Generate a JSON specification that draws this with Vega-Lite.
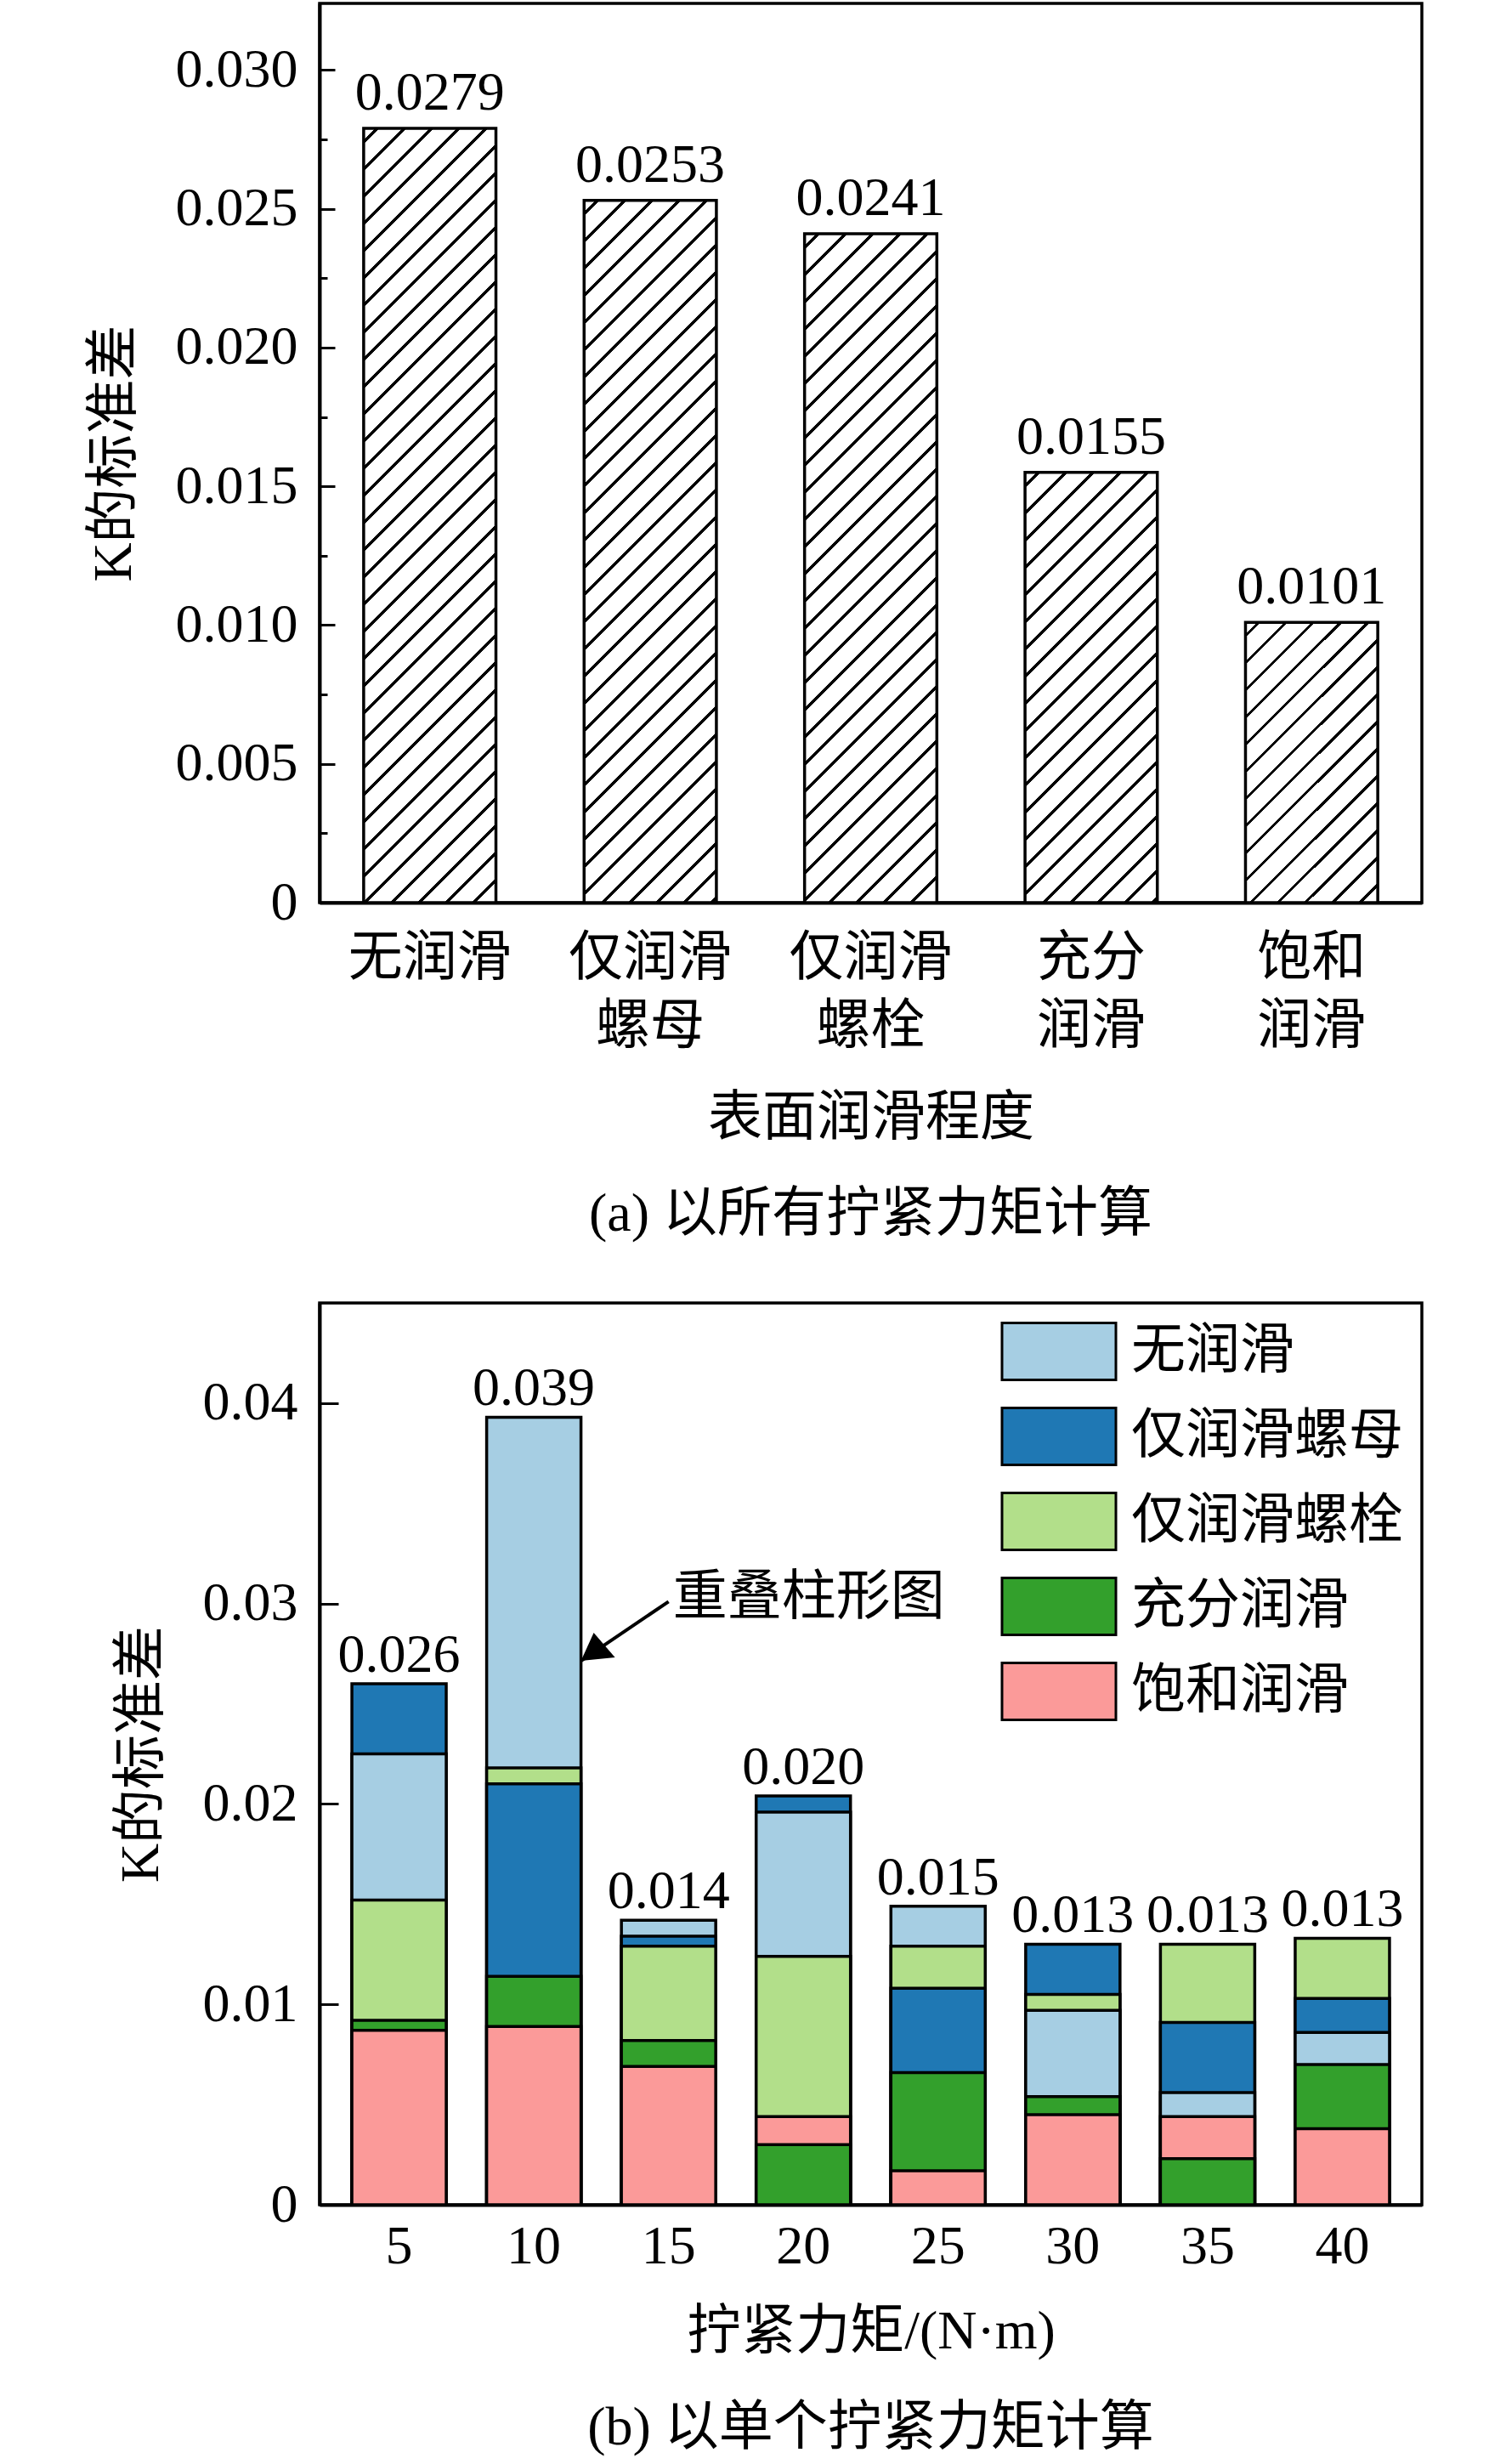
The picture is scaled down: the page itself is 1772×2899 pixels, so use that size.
{
  "$schema": "https://vega.github.io/schema/vega-lite/v6.json",
  "background": "white",
  "padding": {"left": 100, "top": 2, "right": 0, "bottom": 0},
  "spacing": 68,
  "resolve": {"scale": {"fill": "independent"}, "legend": {"fill": "independent"}},
  "params": [
    {
      "name": "hatch",
      "value": [
        {"offset": 0, "color": "#fff"},
        {"offset": 0.0107, "color": "#fff"}, {"offset": 0.0107, "color": "#000"}, {"offset": 0.0143, "color": "#000"}, {"offset": 0.0143, "color": "#fff"},
        {"offset": 0.0357, "color": "#fff"}, {"offset": 0.0357, "color": "#000"}, {"offset": 0.0393, "color": "#000"}, {"offset": 0.0393, "color": "#fff"},
        {"offset": 0.0607, "color": "#fff"}, {"offset": 0.0607, "color": "#000"}, {"offset": 0.0643, "color": "#000"}, {"offset": 0.0643, "color": "#fff"},
        {"offset": 0.0857, "color": "#fff"}, {"offset": 0.0857, "color": "#000"}, {"offset": 0.0893, "color": "#000"}, {"offset": 0.0893, "color": "#fff"},
        {"offset": 0.1107, "color": "#fff"}, {"offset": 0.1107, "color": "#000"}, {"offset": 0.1143, "color": "#000"}, {"offset": 0.1143, "color": "#fff"},
        {"offset": 0.1357, "color": "#fff"}, {"offset": 0.1357, "color": "#000"}, {"offset": 0.1393, "color": "#000"}, {"offset": 0.1393, "color": "#fff"},
        {"offset": 0.1607, "color": "#fff"}, {"offset": 0.1607, "color": "#000"}, {"offset": 0.1643, "color": "#000"}, {"offset": 0.1643, "color": "#fff"},
        {"offset": 0.1857, "color": "#fff"}, {"offset": 0.1857, "color": "#000"}, {"offset": 0.1893, "color": "#000"}, {"offset": 0.1893, "color": "#fff"},
        {"offset": 0.2107, "color": "#fff"}, {"offset": 0.2107, "color": "#000"}, {"offset": 0.2143, "color": "#000"}, {"offset": 0.2143, "color": "#fff"},
        {"offset": 0.2357, "color": "#fff"}, {"offset": 0.2357, "color": "#000"}, {"offset": 0.2393, "color": "#000"}, {"offset": 0.2393, "color": "#fff"},
        {"offset": 0.2607, "color": "#fff"}, {"offset": 0.2607, "color": "#000"}, {"offset": 0.2643, "color": "#000"}, {"offset": 0.2643, "color": "#fff"},
        {"offset": 0.2857, "color": "#fff"}, {"offset": 0.2857, "color": "#000"}, {"offset": 0.2893, "color": "#000"}, {"offset": 0.2893, "color": "#fff"},
        {"offset": 0.3107, "color": "#fff"}, {"offset": 0.3107, "color": "#000"}, {"offset": 0.3143, "color": "#000"}, {"offset": 0.3143, "color": "#fff"},
        {"offset": 0.3357, "color": "#fff"}, {"offset": 0.3357, "color": "#000"}, {"offset": 0.3393, "color": "#000"}, {"offset": 0.3393, "color": "#fff"},
        {"offset": 0.3607, "color": "#fff"}, {"offset": 0.3607, "color": "#000"}, {"offset": 0.3643, "color": "#000"}, {"offset": 0.3643, "color": "#fff"},
        {"offset": 0.3857, "color": "#fff"}, {"offset": 0.3857, "color": "#000"}, {"offset": 0.3893, "color": "#000"}, {"offset": 0.3893, "color": "#fff"},
        {"offset": 0.4107, "color": "#fff"}, {"offset": 0.4107, "color": "#000"}, {"offset": 0.4143, "color": "#000"}, {"offset": 0.4143, "color": "#fff"},
        {"offset": 0.4357, "color": "#fff"}, {"offset": 0.4357, "color": "#000"}, {"offset": 0.4393, "color": "#000"}, {"offset": 0.4393, "color": "#fff"},
        {"offset": 0.4607, "color": "#fff"}, {"offset": 0.4607, "color": "#000"}, {"offset": 0.4643, "color": "#000"}, {"offset": 0.4643, "color": "#fff"},
        {"offset": 0.4857, "color": "#fff"}, {"offset": 0.4857, "color": "#000"}, {"offset": 0.4893, "color": "#000"}, {"offset": 0.4893, "color": "#fff"},
        {"offset": 0.5107, "color": "#fff"}, {"offset": 0.5107, "color": "#000"}, {"offset": 0.5143, "color": "#000"}, {"offset": 0.5143, "color": "#fff"},
        {"offset": 0.5357, "color": "#fff"}, {"offset": 0.5357, "color": "#000"}, {"offset": 0.5393, "color": "#000"}, {"offset": 0.5393, "color": "#fff"},
        {"offset": 0.5607, "color": "#fff"}, {"offset": 0.5607, "color": "#000"}, {"offset": 0.5643, "color": "#000"}, {"offset": 0.5643, "color": "#fff"},
        {"offset": 0.5857, "color": "#fff"}, {"offset": 0.5857, "color": "#000"}, {"offset": 0.5893, "color": "#000"}, {"offset": 0.5893, "color": "#fff"},
        {"offset": 0.6107, "color": "#fff"}, {"offset": 0.6107, "color": "#000"}, {"offset": 0.6143, "color": "#000"}, {"offset": 0.6143, "color": "#fff"},
        {"offset": 0.6357, "color": "#fff"}, {"offset": 0.6357, "color": "#000"}, {"offset": 0.6393, "color": "#000"}, {"offset": 0.6393, "color": "#fff"},
        {"offset": 0.6607, "color": "#fff"}, {"offset": 0.6607, "color": "#000"}, {"offset": 0.6643, "color": "#000"}, {"offset": 0.6643, "color": "#fff"},
        {"offset": 0.6857, "color": "#fff"}, {"offset": 0.6857, "color": "#000"}, {"offset": 0.6893, "color": "#000"}, {"offset": 0.6893, "color": "#fff"},
        {"offset": 0.7107, "color": "#fff"}, {"offset": 0.7107, "color": "#000"}, {"offset": 0.7143, "color": "#000"}, {"offset": 0.7143, "color": "#fff"},
        {"offset": 0.7357, "color": "#fff"}, {"offset": 0.7357, "color": "#000"}, {"offset": 0.7393, "color": "#000"}, {"offset": 0.7393, "color": "#fff"},
        {"offset": 0.7607, "color": "#fff"}, {"offset": 0.7607, "color": "#000"}, {"offset": 0.7643, "color": "#000"}, {"offset": 0.7643, "color": "#fff"},
        {"offset": 0.7857, "color": "#fff"}, {"offset": 0.7857, "color": "#000"}, {"offset": 0.7893, "color": "#000"}, {"offset": 0.7893, "color": "#fff"},
        {"offset": 0.8107, "color": "#fff"}, {"offset": 0.8107, "color": "#000"}, {"offset": 0.8143, "color": "#000"}, {"offset": 0.8143, "color": "#fff"},
        {"offset": 0.8357, "color": "#fff"}, {"offset": 0.8357, "color": "#000"}, {"offset": 0.8393, "color": "#000"}, {"offset": 0.8393, "color": "#fff"},
        {"offset": 0.8607, "color": "#fff"}, {"offset": 0.8607, "color": "#000"}, {"offset": 0.8643, "color": "#000"}, {"offset": 0.8643, "color": "#fff"},
        {"offset": 0.8857, "color": "#fff"}, {"offset": 0.8857, "color": "#000"}, {"offset": 0.8893, "color": "#000"}, {"offset": 0.8893, "color": "#fff"},
        {"offset": 1, "color": "#fff"}
      ]
    }
  ],
  "config": {
    "font": "Liberation Serif, Noto Sans CJK SC",
    "view": {"stroke": "black", "strokeWidth": 3.5},
    "axis": {
      "grid": false,
      "labelFontSize": 64,
      "titleFontSize": 64,
      "titleFontWeight": "normal",
      "labelColor": "black",
      "titleColor": "black",
      "domainColor": "black",
      "domainWidth": 4,
      "tickColor": "black",
      "tickWidth": 3
    },
    "title": {"fontSize": 64, "fontWeight": "normal", "color": "black"},
    "text": {"fontSize": 64, "color": "black"}
  },
  "vconcat": [
    {
      "width": 1297,
      "height": 1058,
      "title": {"text": "(a) 以所有拧紧力矩计算", "orient": "bottom", "frame": "group", "anchor": "middle", "offset": 50},
      "data": {
        "values": [
          {"cat": "无润滑", "v": 0.0279},
          {"cat": "仅润滑螺母", "v": 0.0253},
          {"cat": "仅润滑螺栓", "v": 0.0241},
          {"cat": "充分润滑", "v": 0.0155},
          {"cat": "饱和润滑", "v": 0.0101}
        ]
      },
      "encoding": {
        "x": {
          "field": "cat",
          "type": "nominal",
          "sort": null,
          "title": "表面润滑程度",
          "scale": {"paddingInner": 0.4, "paddingOuter": 0.2},
          "axis": {
            "labelAngle": 0,
            "ticks": false,
            "labelPadding": 33,
            "labelBaseline": "top",
            "labelLineHeight": 80,
            "labelLimit": 0,
            "labelOverlap": false,
            "labelExpr": "length(datum.label) > 3 ? [substring(datum.label, 0, length(datum.label) - 2), substring(datum.label, length(datum.label) - 2)] : datum.label",
            "titlePadding": 44
          }
        },
        "y": {
          "field": "v",
          "type": "quantitative",
          "title": "K的标准差",
          "scale": {"domain": [0, 0.0324], "nice": false},
          "axis": {
            "values": [0, 0.0025, 0.005, 0.0075, 0.01, 0.0125, 0.015, 0.0175, 0.02, 0.0225, 0.025, 0.0275, 0.03],
            "labelExpr": "datum.value === 0 ? '0' : (round(datum.value * 10000) % 50 === 0 ? format(datum.value, '.3f') : '')",
            "tickSize": {"condition": {"test": "round(datum.value * 10000) % 50 === 0", "value": -18}, "value": -9},
            "labelPadding": 44,
            "labelOverlap": false,
            "titlePadding": 40
          }
        }
      },
      "layer": [
        {
          "mark": {"type": "bar", "stroke": "black", "strokeWidth": 3.5},
          "encoding": {
            "fill": {"value": {"expr": "{gradient: 'linear', x1: 0, y1: 0, x2: 199168 / (24211 + pow(datum.v * 32654, 2)), y2: 41797120 * datum.v / (24211 + pow(datum.v * 32654, 2)), stops: hatch}"}}
          }
        },
        {
          "mark": {"type": "text", "baseline": "alphabetic", "dy": -22},
          "encoding": {"text": {"field": "v", "format": ".4f"}}
        }
      ]
    },
    {
      "width": 1297,
      "height": 1061,
      "title": {"text": "(b) 以单个拧紧力矩计算", "orient": "bottom", "frame": "group", "anchor": "middle", "offset": 50},
      "data": {
        "values": [
          {"t": 5, "s": "无润滑", "v": 0.0225},
          {"t": 5, "s": "仅润滑螺母", "v": 0.0260},
          {"t": 5, "s": "仅润滑螺栓", "v": 0.0152},
          {"t": 5, "s": "充分润滑", "v": 0.0092},
          {"t": 5, "s": "饱和润滑", "v": 0.0087},
          {"t": 10, "s": "无润滑", "v": 0.0393},
          {"t": 10, "s": "仅润滑螺母", "v": 0.0210},
          {"t": 10, "s": "仅润滑螺栓", "v": 0.0218},
          {"t": 10, "s": "充分润滑", "v": 0.0114},
          {"t": 10, "s": "饱和润滑", "v": 0.0089},
          {"t": 15, "s": "无润滑", "v": 0.0142},
          {"t": 15, "s": "仅润滑螺母", "v": 0.0134},
          {"t": 15, "s": "仅润滑螺栓", "v": 0.0129},
          {"t": 15, "s": "充分润滑", "v": 0.0082},
          {"t": 15, "s": "饱和润滑", "v": 0.0069},
          {"t": 20, "s": "无润滑", "v": 0.0196},
          {"t": 20, "s": "仅润滑螺母", "v": 0.0204},
          {"t": 20, "s": "仅润滑螺栓", "v": 0.0124},
          {"t": 20, "s": "充分润滑", "v": 0.0030},
          {"t": 20, "s": "饱和润滑", "v": 0.0044},
          {"t": 25, "s": "无润滑", "v": 0.0149},
          {"t": 25, "s": "仅润滑螺母", "v": 0.0108},
          {"t": 25, "s": "仅润滑螺栓", "v": 0.0129},
          {"t": 25, "s": "充分润滑", "v": 0.0066},
          {"t": 25, "s": "饱和润滑", "v": 0.0017},
          {"t": 30, "s": "无润滑", "v": 0.0097},
          {"t": 30, "s": "仅润滑螺母", "v": 0.0130},
          {"t": 30, "s": "仅润滑螺栓", "v": 0.0105},
          {"t": 30, "s": "充分润滑", "v": 0.0054},
          {"t": 30, "s": "饱和润滑", "v": 0.0045},
          {"t": 35, "s": "无润滑", "v": 0.0056},
          {"t": 35, "s": "仅润滑螺母", "v": 0.0091},
          {"t": 35, "s": "仅润滑螺栓", "v": 0.0130},
          {"t": 35, "s": "充分润滑", "v": 0.0023},
          {"t": 35, "s": "饱和润滑", "v": 0.0044},
          {"t": 40, "s": "无润滑", "v": 0.0086},
          {"t": 40, "s": "仅润滑螺母", "v": 0.0103},
          {"t": 40, "s": "仅润滑螺栓", "v": 0.0133},
          {"t": 40, "s": "充分润滑", "v": 0.0070},
          {"t": 40, "s": "饱和润滑", "v": 0.0038}
        ]
      },
      "layer": [
        {
          "mark": {"type": "bar", "stroke": "black", "strokeWidth": 3.5},
          "encoding": {
            "x": {
              "field": "t",
              "type": "ordinal",
              "title": "拧紧力矩/(N·m)",
              "scale": {"paddingInner": 0.3, "paddingOuter": 0.24},
              "axis": {"labelAngle": 0, "ticks": false, "labelPadding": 17, "titlePadding": 36}
            },
            "y": {
              "field": "v",
              "type": "quantitative",
              "stack": null,
              "title": "K的标准差",
              "scale": {"domain": [0, 0.045], "nice": false},
              "axis": {
                "values": [0, 0.01, 0.02, 0.03, 0.04],
                "labelExpr": "datum.value === 0 ? '0' : format(datum.value, '.2f')",
                "tickSize": -22,
                "labelPadding": 48,
                "titlePadding": 40
              }
            },
            "fill": {
              "field": "s",
              "type": "nominal",
              "scale": {
                "domain": ["无润滑", "仅润滑螺母", "仅润滑螺栓", "充分润滑", "饱和润滑"],
                "range": ["#a6cee3", "#1f78b4", "#b2df8a", "#33a02c", "#fb9a99"]
              },
              "legend": {
                "title": null,
                "orient": "top-right",
                "offset": 22,
                "padding": 0,
                "symbolType": "M-2,-1H2V1H-2Z",
                "symbolSize": 4489,
                "symbolStrokeColor": "black",
                "symbolStrokeWidth": 3,
                "symbolOpacity": 1,
                "labelFontSize": 64,
                "labelColor": "black",
                "labelOffset": 50,
                "labelLimit": 600,
                "rowPadding": 20
              }
            },
            "order": {"field": "v", "sort": "descending"}
          }
        },
        {
          "transform": [{"aggregate": [{"op": "max", "field": "v", "as": "top"}], "groupby": ["t"]}],
          "mark": {"type": "text", "baseline": "alphabetic", "dy": -14},
          "encoding": {
            "x": {"field": "t", "type": "ordinal", "title": "拧紧力矩/(N·m)"},
            "y": {"field": "top", "type": "quantitative", "title": "K的标准差"},
            "text": {"field": "top", "format": ".3f"}
          }
        },
        {
          "data": {"values": [{}]},
          "mark": {"type": "rule", "strokeWidth": 4, "color": "black"},
          "encoding": {
            "x": {"datum": 15, "type": "ordinal", "title": "拧紧力矩/(N·m)"},
            "x2": {"datum": 10, "bandPosition": 1},
            "y": {"datum": 0.0301, "type": "quantitative", "title": "K的标准差"},
            "y2": {"datum": 0.02714}
          }
        },
        {
          "data": {"values": [{}]},
          "mark": {"type": "point", "shape": "M0,0L0.375,-0.83L1,-0.1Z", "size": 6400, "filled": true, "fill": "black", "strokeWidth": 0, "opacity": 1},
          "encoding": {
            "x": {"datum": 10, "type": "ordinal", "bandPosition": 1, "title": "拧紧力矩/(N·m)"},
            "y": {"datum": 0.02714, "type": "quantitative", "title": "K的标准差"}
          }
        },
        {
          "data": {"values": [{}]},
          "mark": {"type": "text", "align": "left", "baseline": "middle", "dx": 5, "text": "重叠柱形图"},
          "encoding": {
            "x": {"datum": 15, "type": "ordinal", "title": "拧紧力矩/(N·m)"},
            "y": {"datum": 0.0303, "type": "quantitative", "title": "K的标准差"}
          }
        }
      ]
    }
  ]
}
